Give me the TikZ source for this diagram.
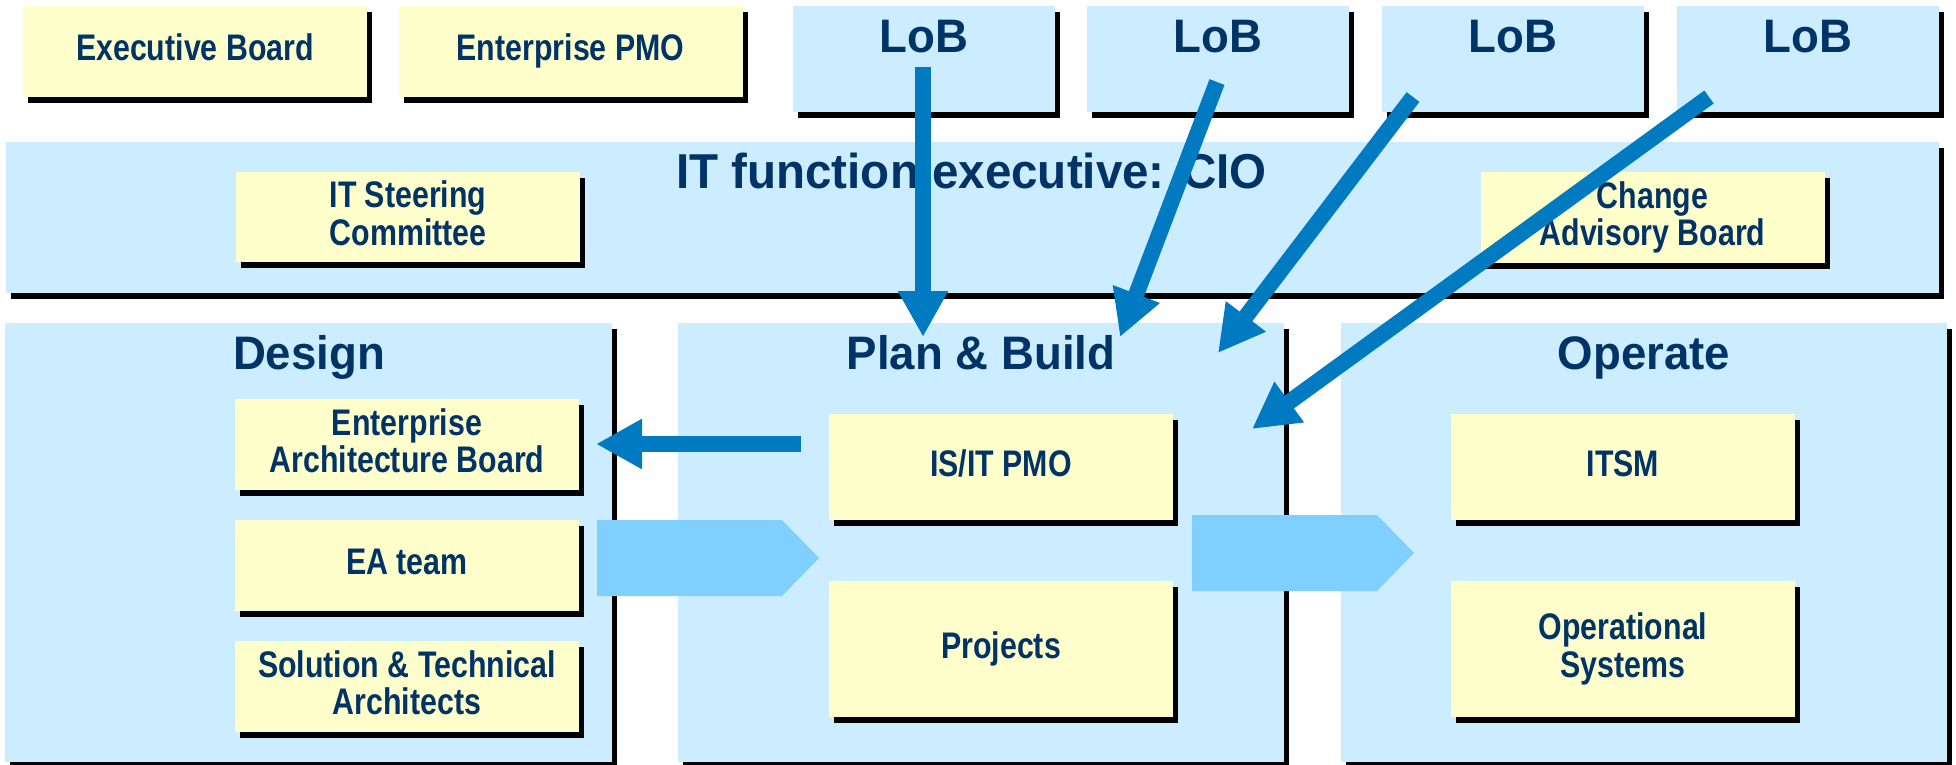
\documentclass[tikz,border=0pt]{standalone}
\usepackage{fontspec}
\setmainfont{Liberation Sans}
\newfontfamily\boxfont{Liberation Sans}[FakeStretch=0.82]
\newfontfamily\ttlfont{Liberation Sans}[FakeStretch=0.97]
\usetikzlibrary{arrows.meta,shadows}
\definecolor{panelc}{RGB}{204,236,255}
\definecolor{yelc}{RGB}{255,255,204}
\definecolor{chevc}{RGB}{128,208,255}
\definecolor{arrc}{RGB}{0,122,193}
\definecolor{navyc}{RGB}{0,51,102}
\begin{document}
\begin{tikzpicture}[x=1pt,y=-1pt,
  shadowed/.style={general shadow={shadow xshift=5pt,shadow yshift=-6pt,fill=black}},
  panel/.style={fill=panelc,inner sep=0pt,shadowed},
  ybox/.style={fill=yelc,inner sep=0pt,minimum width=344pt,minimum height=91pt,shadowed,
    text=navyc,align=center,font=\boxfont\bfseries\fontsize{37}{37.5}\selectfont,
    execute at end node={\vphantom{g}}},
  ttl/.style={text=navyc,inner sep=0pt,anchor=base,font=\ttlfont\bfseries\fontsize{47}{50}\selectfont},
  ttlbig/.style={text=navyc,inner sep=0pt,anchor=base,font=\ttlfont\bfseries\fontsize{49}{52}\selectfont},
  flow/.style={draw=arrc,line width=16pt,-{Triangle[length=46pt,width=47pt]}},
  chev/.style={fill=chevc}
]
\useasboundingbox (0,0) rectangle (1956,764);
\clip (0,0) rectangle (1956,764);

% top row
\node[ybox] (exec) at (195,51.5) {Executive Board};
\node[ybox] (epmo) at (570.5,51.5) {Enterprise PMO};
\node[panel,minimum width=262pt,minimum height=106pt] (lob1) at (924,59) {};
\node[panel,minimum width=262pt,minimum height=106pt] (lob2) at (1218,59) {};
\node[panel,minimum width=262pt,minimum height=106pt] (lob3) at (1513,59) {};
\node[panel,minimum width=262pt,minimum height=106pt] (lob4) at (1808,59) {};
\node[ttl] (lob1t) at (924,52) {LoB};
\node[ttl] (lob2t) at (1218,52) {LoB};
\node[ttl] (lob3t) at (1513,52) {LoB};
\node[ttl] (lob4t) at (1808,52) {LoB};

% IT function band
\node[panel,minimum width=1933pt,minimum height=151pt] (itf) at (972.5,217.5) {};
\node[ttlbig] (itft) at (971.5,188) {IT function executive: CIO};
\node[ybox,minimum height=90pt] (steer) at (408,217) {IT Steering\\Committee};
\node[ybox] (cab) at (1652.5,217.5) {Change\\Advisory Board};

% bottom panels
\node[panel,minimum width=607pt,minimum height=439pt] (design) at (308.5,542.5) {};
\node[panel,minimum width=606pt,minimum height=439pt] (plan) at (981,542.5) {};
\node[panel,minimum width=606pt,minimum height=439pt] (oper) at (1644,542.5) {};
\node[ttl] (designt) at (309,369) {Design};
\node[ttl] (plant) at (981,369) {Plan \& Build};
\node[ttl] (opert) at (1644,369) {Operate};

\node[ybox] (eab) at (407,444.5) {Enterprise\\Architecture Board};
\node[ybox] (eat) at (407,565.5) {EA team};
\node[ybox] (sta) at (407,686.5) {Solution \& Technical\\Architects};
\node[ybox,minimum height=106pt] (pmo) at (1001,467) {IS/IT PMO};
\node[ybox,minimum height=136pt] (proj) at (1001,649) {Projects};
\node[ybox,minimum height=106pt] (itsm) at (1623,467) {ITSM};
\node[ybox,minimum height=136pt] (ops) at (1623,649) {Operational\\Systems};

% flow chevrons
\fill[chev] (597,520) -- (782,520) -- (819,558) -- (782,596) -- (597,596) -- cycle;
\fill[chev] (1192,515) -- (1377,515) -- (1414,553) -- (1377,591) -- (1192,591) -- cycle;

% arrows
\coordinate (a1s) at (923,67);   \coordinate (a1e) at (923,337);
\coordinate (a2s) at (1217,82);  \coordinate (a2e) at (1120,337);
\coordinate (a3s) at (1413,97);  \coordinate (a3e) at (1218,353);
\coordinate (a4s) at (1709,97);  \coordinate (a4e) at (1252,429);
\coordinate (a5s) at (801,444);  \coordinate (a5e) at (596,444);
\draw[flow] (a1s) -- (a1e);
\draw[flow] (a2s) -- (a2e);
\draw[flow] (a3s) -- (a3e);
\draw[flow] (a4s) -- (a4e);
\draw[flow] (a5s) -- (a5e);
\end{tikzpicture}
\end{document}
